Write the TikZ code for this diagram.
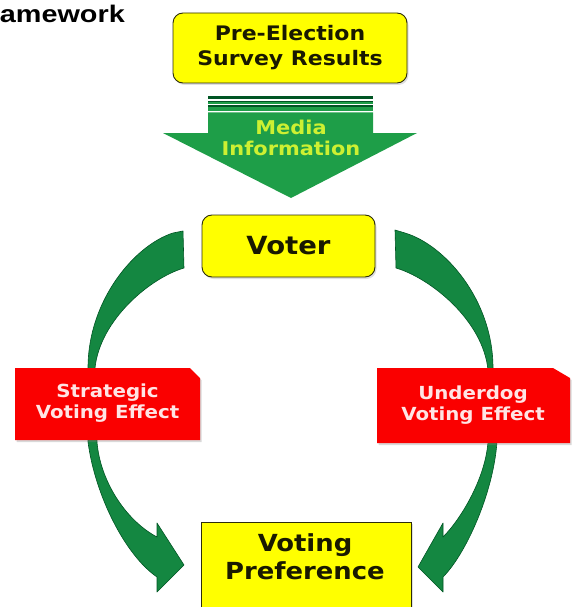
\documentclass[tikz,border=0pt]{standalone}
\usepackage{fontspec}
\setmainfont{DejaVu Sans}[FakeStretch=1.1]
\newfontfamily\headfont{Liberation Sans}[FakeStretch=1.2]
\usetikzlibrary{shadows}

\definecolor{boxyellow}{RGB}{255,255,0}
\definecolor{boxline}{RGB}{45,45,10}
\definecolor{boxtext}{RGB}{25,25,0}
\definecolor{arrowgreen}{RGB}{30,158,72}
\definecolor{curvegreen}{RGB}{20,135,65}
\definecolor{darkgreen}{RGB}{0,85,35}
\definecolor{mediatext}{RGB}{205,240,50}
\definecolor{effectred}{RGB}{250,0,0}
\definecolor{effecttext}{RGB}{255,228,228}

\tikzset{
	yellowbox/.style = {draw=boxline, fill=boxyellow, line width=0.9pt, drop shadow={opacity=0.25, shadow xshift=1.5pt, shadow yshift=-2pt}},
	boxlabel/.style = {text=boxtext, align=center, font=\bfseries},
	curvearrow/.style = {fill=curvegreen, draw=darkgreen, line width=0.6pt, line join=round},
	effectbox/.style = {fill=effectred, drop shadow={opacity=0.3, shadow xshift=1.5pt, shadow yshift=-2pt}},
	effectlabel/.style = {text=effecttext, align=center, font=\bfseries\fontsize{18}{21}\selectfont}
}

\begin{document}
\begin{tikzpicture}[x=1pt, y=-1pt]
	\useasboundingbox (0,0) rectangle (572,607);
	\clip (0,0) rectangle (572,607);
	
	\node[anchor=base east, inner sep=1pt, font=\headfont\bfseries\fontsize{24}{28}\selectfont] (title) at (126,23) {amework}; % cut title
	
	% survey box
	\node[yellowbox, boxlabel, rounded corners=10pt, minimum width=234pt, minimum height=70pt, font=\bfseries\fontsize{20}{25}\selectfont] (survey) at (290,48) {Pre-Election\\Survey Results};
	
	% media arrow
	\fill[darkgreen] (208,96.5) rectangle (373,99.5);
	\fill[darkgreen] (208,101) rectangle (373,102.5);
	\fill[arrowgreen] (208,102.5) rectangle (373,104);
	\fill[darkgreen] (208,105.5) rectangle (373,107);
	\fill[arrowgreen] (208,107) rectangle (373,111);
	\fill[arrowgreen] (208,112.5) -- (373,112.5) -- (373,133) -- (417,133) -- (291,198) -- (163,133) -- (208,133) -- cycle;
	\node[text=mediatext, align=center, font=\bfseries\fontsize{19}{21}\selectfont] (media) at (291,138) {Media\\Information};
	
	\node[yellowbox, boxlabel, rounded corners=10pt, minimum width=173pt, minimum height=62pt, font=\bfseries\fontsize{25}{28}\selectfont] (voter) at (288.5,246) {Voter};
	
	% curved arrows
	\draw[curvearrow] (183,231) -- (184,268)
		.. controls (150,278) and (100,320) .. (95,368)
		-- (97,442)
		.. controls (100,480) and (125,520) .. (157,537)
		-- (157,523) -- (184,565) -- (157,592) -- (157,577)
		.. controls (125,555) and (95,495) .. (88,442)
		-- (88,368)
		.. controls (88,300) and (135,245) .. (173,233)
		-- cycle;
	\draw[curvearrow] (395,230) -- (396,268)
		.. controls (430,278) and (483,320) .. (488,370)
		-- (488,442)
		.. controls (485,480) and (460,520) .. (443,537)
		-- (443,523) -- (418,567) -- (443,592) -- (443,577)
		.. controls (465,555) and (493,495) .. (497,442)
		-- (493,368)
		.. controls (493,300) and (445,245) .. (405,233)
		-- cycle;
	
	% effect boxes
	\fill[effectbox] (15,368) -- (190,368) -- (200,378) -- (200,440) -- (15,440) -- cycle;
	\node[effectlabel] (strategic) at (107.5,403) {Strategic\\Voting Effect};
	\fill[effectbox] (377,368) -- (553,368) -- (570,378) -- (570,443) -- (377,443) -- cycle;
	\node[effectlabel] (underdog) at (473,405) {Underdog\\Voting Effect};
	
	% preference box
	\node[yellowbox, anchor=north, minimum width=210pt, minimum height=100pt] (pref) at (306,522) {};
	\node[boxlabel, font=\bfseries\fontsize{23.5}{28}\selectfont] (preftext) at (305,557) {Voting\\Preference};
	
\end{tikzpicture}
\end{document}
